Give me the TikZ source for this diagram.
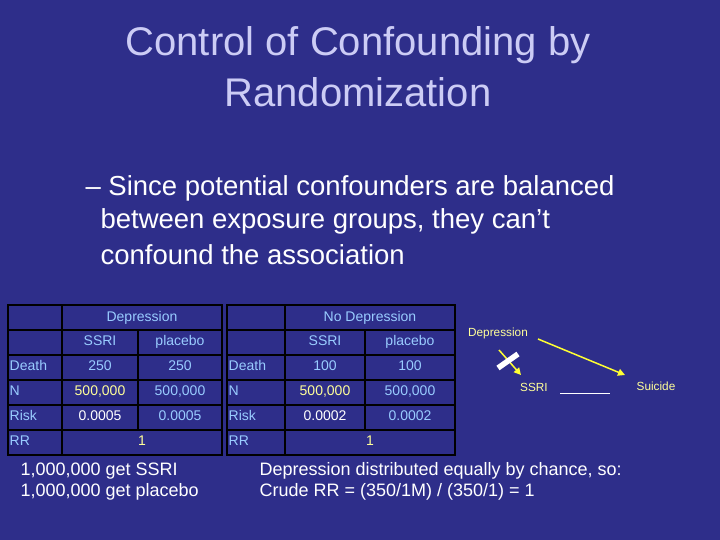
\documentclass[tikz,border=0pt]{standalone}
\usepackage{fontspec}
\setmainfont{Liberation Sans}
\usetikzlibrary{arrows.meta}
\definecolor{bg}{HTML}{2E2E8A}
\definecolor{ttl}{HTML}{CCCCF5}
\definecolor{lb}{HTML}{99CCFF}
\definecolor{yl}{HTML}{FFFF33}
\definecolor{yt}{HTML}{FFFF99}
\tikzset{cell/.style={draw=black,line width=1.5pt,fill=bg},
 ct/.style={text=lb,font=\fontsize{14}{16}\selectfont,text height=10pt,text depth=2.5pt,inner xsep=1.5pt},
 ar/.style={yl,line width=1.5pt,-{Triangle[length=7pt,width=7pt]}}}
\begin{document}
\begin{tikzpicture}[x=1pt,y=-1pt]
\fill[bg] (0,0) rectangle (720,540);
\node[text=ttl,font=\fontsize{40}{46}\selectfont] (t1) at (358,45) {Control of Confounding by};
\node[text=ttl,font=\fontsize{40}{46}\selectfont] (t2) at (358,92) {Randomization};
\node[text=white,font=\fontsize{27.5}{32}\selectfont,anchor=west] (b1) at (82,188) {– Since potential confounders are balanced};
\node[text=white,font=\fontsize{27.5}{32}\selectfont,anchor=west] (b2) at (97,221) {between exposure groups, they can’t};
\node[text=white,font=\fontsize{27.5}{32}\selectfont,anchor=west] (b3) at (97,255) {confound the association};
% tables
\foreach \ox/\ca/\cb/\cc/\hd/\dd/\rk in {8/62/138/222/Depression/250/0.0005, 227/285/365/455/No Depression/100/0.0002}{
 \foreach \ya/\yb in {305/330,330/355,355/380,380/405,405/430,430/455}{
  \draw[cell] (\ox,\ya) rectangle (\ca,\yb);}
 \draw[cell] (\ca,305) rectangle (\cc,330);
 \draw[cell] (\ca,430) rectangle (\cc,455);
 \foreach \ya/\yb in {330/355,355/380,380/405,405/430}{
  \draw[cell] (\ca,\ya) rectangle (\cb,\yb);
  \draw[cell] (\cb,\ya) rectangle (\cc,\yb);}
 \node[ct] at ({(\ca+\cc)/2},318) {\hd};
 \node[ct] at ({(\ca+\cb)/2},342) {SSRI};
 \node[ct] at ({(\cb+\cc)/2},342) {placebo};
 \node[ct,anchor=west] at (\ox,367) {Death};
 \node[ct] at ({(\ca+\cb)/2},367) {\dd};
 \node[ct] at ({(\cb+\cc)/2},367) {\dd};
 \node[ct,anchor=west] at (\ox,392) {N};
 \node[ct,text=yt] at ({(\ca+\cb)/2},392) {500,000};
 \node[ct] at ({(\cb+\cc)/2},392) {500,000};
 \node[ct,anchor=west] at (\ox,417) {Risk};
 \node[ct,text=white] at ({(\ca+\cb)/2},417) {\rk};
 \node[ct] at ({(\cb+\cc)/2},417) {\rk};
 \node[ct,anchor=west] at (\ox,442) {RR};
 \node[ct,text=yt] at ({(\ca+\cc)/2},442) {1};
}
% DAG
\tikzset{dg/.style={text=yt,font=\fontsize{11.8}{14}\selectfont}}
\node[dg] (dep) at (498,333) {Depression};
\node[dg] (ssri) at (534,387) {SSRI};
\node[dg] (sui) at (656,386) {Suicide};
\coordinate (da) at (538,339);
\coordinate (se) at (625,375);
\draw[ar] (da) -- (se);
\coordinate (sa) at (499,350); \coordinate (sb) at (521,375);
\draw[ar] (sa) -- (sb);
\draw[white,line width=5.5pt] (498,368) -- (518,354);
\coordinate (la) at (560,393); \coordinate (lb2) at (610,393);
\draw[white,line width=0.8pt] (la) -- (lb2);
% bottom text
\tikzset{bt/.style={text=white,font=\fontsize{18}{21}\selectfont,anchor=west}}
\node[bt] (l1) at (17,471) {1,000,000 get SSRI};
\node[bt] (l2) at (17,492) {1,000,000 get placebo};
\node[bt] (r1) at (256,471) {Depression distributed equally by chance, so:};
\node[bt] (r2) at (256,492) {Crude RR = (350/1M) / (350/1) = 1};
\end{tikzpicture}
\end{document}
